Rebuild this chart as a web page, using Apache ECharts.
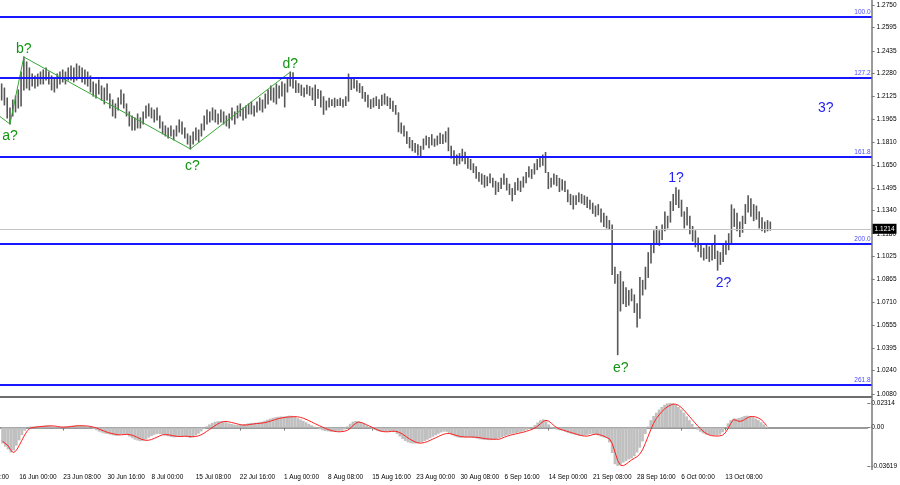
<!DOCTYPE html>
<html>
<head>
<meta charset="utf-8">
<script src="https://cdn.jsdelivr.net/npm/echarts@6/dist/echarts.min.js"></script>
<style>
html,body{margin:0;padding:0;background:#fff;overflow:hidden;width:900px;height:485px}
#wrap{position:relative;width:900px;height:485px;overflow:hidden}
#chart{position:absolute;left:-28px;top:0;width:928px;height:485px}
</style>
</head>
<body>
<div id="wrap"><div id="chart"></div></div>
<script>
// ---- data (GBP/USD, 8-hour bars) ----
const highs = [
1.2208,1.2180,1.2112,1.2043,1.2098,1.2125,1.2167,1.2290,1.2393,1.2359,
1.2318,1.2276,1.2263,1.2276,1.2290,1.2304,1.2318,1.2290,1.2263,1.2249,
1.2276,1.2290,1.2304,1.2290,1.2318,1.2331,1.2318,1.2345,1.2331,1.2318,
1.2304,1.2290,1.2263,1.2221,1.2208,1.2235,1.2194,1.2180,1.2208,1.2139,
1.2098,1.2071,1.2112,1.2167,1.2139,1.2071,1.2016,1.1988,1.1975,1.2002,
1.1975,1.2016,1.2057,1.2071,1.2043,1.2029,1.2043,1.1988,1.1947,1.1920,
1.1906,1.1920,1.1892,1.1920,1.1961,1.1947,1.1906,1.1865,1.1851,1.1878,
1.1906,1.1892,1.1933,1.1988,1.2029,1.2016,1.2043,1.2029,1.2002,1.2029,
1.2016,1.1988,1.2002,1.2043,1.2016,1.2057,1.2071,1.2043,1.2057,1.2071,
1.2084,1.2057,1.2084,1.2112,1.2098,1.2139,1.2167,1.2194,1.2180,1.2208,
1.2194,1.2221,1.2208,1.2249,1.2290,1.2285,1.2230,1.2210,1.2200,1.2180,
1.2200,1.2190,1.2180,1.2200,1.2170,1.2160,1.2120,1.2090,1.2110,1.2100,
1.2110,1.2100,1.2110,1.2100,1.2120,1.2276,1.2250,1.2240,1.2230,1.2210,
1.2190,1.2150,1.2130,1.2100,1.2110,1.2120,1.2100,1.2130,1.2140,1.2120,
1.2110,1.2090,1.2060,1.2010,1.1940,1.1920,1.1880,1.1840,1.1820,1.1800,
1.1790,1.1780,1.1830,1.1850,1.1840,1.1860,1.1830,1.1850,1.1870,1.1860,
1.1880,1.1906,1.1780,1.1750,1.1720,1.1730,1.1760,1.1740,1.1700,1.1690,
1.1660,1.1640,1.1600,1.1590,1.1580,1.1570,1.1590,1.1560,1.1540,1.1530,
1.1560,1.1590,1.1560,1.1520,1.1490,1.1530,1.1560,1.1540,1.1570,1.1600,
1.1640,1.1620,1.1660,1.1690,1.1700,1.1720,1.1738,1.1600,1.1560,1.1590,
1.1580,1.1560,1.1550,1.1540,1.1480,1.1450,1.1440,1.1440,1.1460,1.1450,
1.1440,1.1430,1.1410,1.1390,1.1370,1.1380,1.1350,1.1320,1.1300,1.1270,
1.1240,1.0950,1.0900,1.0920,1.0850,1.0810,1.0790,1.0800,1.0760,1.0700,
1.0880,1.0860,1.0950,1.1050,1.1110,1.1200,1.1230,1.1200,1.1240,1.1330,
1.1300,1.1400,1.1450,1.1496,1.1480,1.1410,1.1330,1.1360,1.1300,1.1230,
1.1200,1.1150,1.1110,1.1080,1.1100,1.1090,1.1110,1.1170,1.1060,1.1050,
1.1100,1.1130,1.1180,1.1378,1.1350,1.1320,1.1260,1.1300,1.1380,1.1440,
1.1420,1.1380,1.1370,1.1330,1.1290,1.1260,1.1270,1.1260
];
const lows = [
1.2098,1.2064,1.1975,1.1933,1.1988,1.2016,1.2043,1.2057,1.2167,1.2180,
1.2167,1.2194,1.2180,1.2194,1.2208,1.2208,1.2235,1.2208,1.2167,1.2153,
1.2180,1.2208,1.2222,1.2208,1.2235,1.2235,1.2222,1.2235,1.2249,1.2222,
1.2208,1.2194,1.2153,1.2125,1.2112,1.2139,1.2098,1.2071,1.2098,1.2043,
1.1988,1.1975,1.2029,1.2071,1.2043,1.1988,1.1920,1.1892,1.1892,1.1906,
1.1906,1.1933,1.1975,1.1988,1.1975,1.1947,1.1961,1.1906,1.1865,1.1851,
1.1837,1.1851,1.1824,1.1851,1.1878,1.1865,1.1837,1.1796,1.1762,1.1796,
1.1824,1.1810,1.1851,1.1892,1.1933,1.1947,1.1961,1.1947,1.1933,1.1947,
1.1933,1.1920,1.1906,1.1961,1.1933,1.1975,1.1988,1.1961,1.1975,1.2002,
1.2002,1.1988,1.2016,1.2029,1.2016,1.2043,1.2071,1.2098,1.2084,1.2071,
1.2112,1.2125,1.2050,1.2153,1.2194,1.2180,1.2150,1.2150,1.2130,1.2120,
1.2140,1.2130,1.2100,1.2060,1.2110,1.2050,1.2000,1.2030,1.2050,1.2060,
1.2050,1.2060,1.2060,1.2050,1.2060,1.2090,1.2170,1.2180,1.2160,1.2150,
1.2110,1.2090,1.2050,1.2040,1.2050,1.2060,1.2040,1.2060,1.2070,1.2060,
1.2040,1.2020,1.2000,1.1880,1.1870,1.1850,1.1800,1.1770,1.1750,1.1740,
1.1720,1.1717,1.1760,1.1790,1.1770,1.1790,1.1780,1.1790,1.1800,1.1800,
1.1810,1.1750,1.1700,1.1660,1.1650,1.1660,1.1680,1.1660,1.1630,1.1620,
1.1600,1.1560,1.1540,1.1520,1.1500,1.1510,1.1530,1.1500,1.1450,1.1470,
1.1490,1.1520,1.1480,1.1450,1.1406,1.1450,1.1480,1.1470,1.1500,1.1530,
1.1570,1.1560,1.1590,1.1620,1.1640,1.1650,1.1600,1.1490,1.1500,1.1520,
1.1510,1.1470,1.1480,1.1470,1.1400,1.1380,1.1350,1.1380,1.1400,1.1390,
1.1380,1.1360,1.1350,1.1320,1.1300,1.1310,1.1260,1.1230,1.1220,1.1210,
1.0900,1.0840,1.0350,1.0650,1.0700,1.0680,1.0690,1.0720,1.0640,1.0540,
1.0600,1.0760,1.0800,1.0880,1.0980,1.1050,1.1110,1.1100,1.1140,1.1200,
1.1220,1.1260,1.1340,1.1380,1.1360,1.1300,1.1220,1.1240,1.1180,1.1130,
1.1090,1.1060,1.1020,1.1000,1.1010,1.0990,1.1000,1.1010,1.0930,1.0970,
1.0990,1.1040,1.1070,1.1120,1.1230,1.1200,1.1160,1.1190,1.1250,1.1330,
1.1300,1.1270,1.1280,1.1220,1.1200,1.1190,1.1200,1.1205
];
const lastClose = 1.1214;

const macd = [
-0.0150,-0.0180,-0.0205,-0.0235,-0.0215,-0.0170,-0.0120,-0.0070,-0.0030,0.0000,
0.0010,0.0010,0.0012,0.0014,0.0016,0.0018,0.0020,0.0018,0.0012,0.0006,
0.0004,0.0006,0.0008,0.0010,0.0014,0.0018,0.0020,0.0022,0.0022,0.0020,
0.0015,0.0008,0.0000,-0.0012,-0.0025,-0.0038,-0.0048,-0.0056,-0.0060,-0.0066,
-0.0072,-0.0078,-0.0074,-0.0064,-0.0060,-0.0066,-0.0084,-0.0100,-0.0114,-0.0122,
-0.0128,-0.0124,-0.0110,-0.0094,-0.0080,-0.0068,-0.0060,-0.0060,-0.0066,-0.0074,
-0.0082,-0.0088,-0.0092,-0.0090,-0.0084,-0.0080,-0.0082,-0.0090,-0.0098,-0.0090,
-0.0074,-0.0058,-0.0036,-0.0012,0.0012,0.0030,0.0044,0.0054,0.0060,0.0060,
0.0058,0.0050,0.0040,0.0034,0.0028,0.0024,0.0026,0.0030,0.0034,0.0040,
0.0044,0.0044,0.0046,0.0050,0.0056,0.0064,0.0074,0.0084,0.0092,0.0098,
0.0102,0.0104,0.0104,0.0108,0.0112,0.0110,0.0100,0.0088,0.0076,0.0064,
0.0050,0.0036,0.0022,0.0010,-0.0004,-0.0016,-0.0026,-0.0032,-0.0036,-0.0040,
-0.0040,-0.0040,-0.0036,-0.0030,-0.0018,0.0010,0.0036,0.0056,0.0062,0.0060,
0.0050,0.0036,0.0020,0.0004,-0.0010,-0.0024,-0.0034,-0.0040,-0.0042,-0.0040,
-0.0036,-0.0034,-0.0040,-0.0060,-0.0084,-0.0108,-0.0126,-0.0140,-0.0148,-0.0150,
-0.0150,-0.0146,-0.0138,-0.0126,-0.0114,-0.0100,-0.0086,-0.0072,-0.0058,-0.0046,
-0.0038,-0.0040,-0.0056,-0.0072,-0.0084,-0.0092,-0.0096,-0.0094,-0.0092,-0.0092,
-0.0094,-0.0098,-0.0104,-0.0110,-0.0114,-0.0116,-0.0118,-0.0118,-0.0116,-0.0110,
-0.0100,-0.0090,-0.0080,-0.0070,-0.0064,-0.0058,-0.0052,-0.0046,-0.0040,-0.0032,
-0.0022,-0.0010,0.0004,0.0024,0.0048,0.0068,0.0078,0.0060,0.0030,0.0006,
-0.0010,-0.0020,-0.0026,-0.0030,-0.0040,-0.0050,-0.0058,-0.0064,-0.0070,-0.0076,
-0.0078,-0.0074,-0.0068,-0.0060,-0.0058,-0.0064,-0.0074,-0.0084,-0.0092,-0.0100,
-0.0140,-0.0240,-0.0345,-0.0361,-0.0350,-0.0330,-0.0315,-0.0300,-0.0290,-0.0270,
-0.0235,-0.0190,-0.0130,-0.0060,0.0010,0.0070,0.0110,0.0140,0.0170,0.0195,
0.0215,0.0228,0.0231,0.0228,0.0215,0.0195,0.0170,0.0140,0.0105,0.0070,
0.0035,0.0005,-0.0020,-0.0040,-0.0055,-0.0065,-0.0070,-0.0072,-0.0075,-0.0072,
-0.0066,-0.0045,-0.0005,0.0040,0.0070,0.0085,0.0085,0.0090,0.0100,0.0110,
0.0112,0.0108,0.0098,0.0085,0.0070,0.0050,0.0030,0.0010
];
const signal = [
-0.0130,-0.0150,-0.0170,-0.0215,-0.0236,-0.0215,-0.0170,-0.0120,-0.0070,-0.0030,
-0.0005,0.0000,0.0004,0.0008,0.0010,0.0012,0.0014,0.0016,0.0016,0.0014,
0.0010,0.0006,0.0004,0.0005,0.0007,0.0010,0.0013,0.0016,0.0017,0.0017,
0.0016,0.0014,0.0010,0.0004,-0.0004,-0.0014,-0.0025,-0.0035,-0.0045,-0.0052,
-0.0058,-0.0064,-0.0068,-0.0068,-0.0066,-0.0064,-0.0066,-0.0072,-0.0082,-0.0094,
-0.0106,-0.0115,-0.0120,-0.0119,-0.0112,-0.0102,-0.0090,-0.0078,-0.0068,-0.0066,
-0.0068,-0.0072,-0.0078,-0.0082,-0.0084,-0.0084,-0.0082,-0.0082,-0.0085,-0.0086,
-0.0084,-0.0078,-0.0068,-0.0054,-0.0036,-0.0018,0.0000,0.0018,0.0034,0.0048,
0.0056,0.0058,0.0054,0.0048,0.0042,0.0035,0.0028,0.0024,0.0024,0.0026,
0.0030,0.0034,0.0038,0.0040,0.0042,0.0046,0.0052,0.0060,0.0068,0.0076,
0.0084,0.0090,0.0094,0.0098,0.0100,0.0102,0.0103,0.0101,0.0096,0.0088,
0.0078,0.0066,0.0054,0.0040,0.0028,0.0016,0.0004,-0.0008,-0.0018,-0.0026,
-0.0033,-0.0038,-0.0040,-0.0038,-0.0034,-0.0026,-0.0008,0.0018,0.0040,0.0052,
0.0048,0.0038,0.0026,0.0014,0.0002,-0.0010,-0.0022,-0.0032,-0.0038,-0.0040,
-0.0039,-0.0036,-0.0034,-0.0038,-0.0048,-0.0062,-0.0080,-0.0098,-0.0114,-0.0128,
-0.0140,-0.0146,-0.0146,-0.0140,-0.0132,-0.0120,-0.0108,-0.0096,-0.0084,-0.0072,
-0.0062,-0.0056,-0.0056,-0.0062,-0.0070,-0.0078,-0.0084,-0.0087,-0.0089,-0.0089,
-0.0089,-0.0090,-0.0092,-0.0096,-0.0100,-0.0104,-0.0107,-0.0109,-0.0110,-0.0110,
-0.0110,-0.0100,-0.0090,-0.0080,-0.0072,-0.0066,-0.0060,-0.0054,-0.0048,-0.0042,
-0.0034,-0.0026,-0.0016,-0.0004,0.0014,0.0036,0.0058,0.0068,0.0060,0.0040,
0.0016,-0.0002,-0.0014,-0.0022,-0.0030,-0.0038,-0.0046,-0.0054,-0.0062,-0.0070,
-0.0076,-0.0080,-0.0080,-0.0074,-0.0066,-0.0062,-0.0064,-0.0072,-0.0082,-0.0094,
-0.0106,-0.0150,-0.0230,-0.0310,-0.0355,-0.0360,-0.0345,-0.0325,-0.0305,-0.0290,
-0.0275,-0.0250,-0.0210,-0.0150,-0.0085,-0.0020,0.0040,0.0085,0.0120,0.0150,
0.0175,0.0195,0.0210,0.0220,0.0220,0.0210,0.0190,0.0165,0.0135,0.0105,
0.0075,0.0045,0.0015,-0.0010,-0.0035,-0.0055,-0.0068,-0.0076,-0.0079,-0.0080,
-0.0078,-0.0072,-0.0050,-0.0010,0.0040,0.0075,0.0068,0.0058,0.0062,0.0075,
0.0092,0.0103,0.0104,0.0100,0.0090,0.0075,0.0050,0.0018
];

// Fibonacci extension levels
const fibLevels = [1.2671, 1.2249, 1.1707, 1.1110, 1.0142];
const fibNames  = ['100.0', '127.2', '161.8', '200.0', '261.8'];

// wave count (green polyline) — bar index / price
const waveIdx   = [-1, 3, 8, 68, 104];
const wavePrice = [1.1990, 1.1933, 1.2393, 1.1762, 1.2290];

// wave labels — bar index / price anchor
const waveLabelNames = ['a?', 'b?', 'c?', 'd?', 'e?', '1?', '2?', '3?'];
const waveLabelIdx   = [3, 8, 68, 104, 222, 243, 258, 297];
const waveLabelPrice = [1.1933, 1.2393, 1.1762, 1.2290, 1.0350, 1.1496, 1.0930, 1.2043];

// tick labels
const yTickLabels = ['1.0080','1.0240','1.0395','1.0555','1.0710','1.0865','1.1025','1.1180','1.1340',
  '1.1495','1.1650','1.1810','1.1965','1.2125','1.2280','1.2435','1.2595','1.2750'];
const macdTickLabels = ['0.02314', '0.00', '-0.03619'];
const xTickLabels = ['8 Jun 16:00','16 Jun 00:00','23 Jun 08:00','30 Jun 16:00','8 Jul 00:00','15 Jul 08:00',
  '22 Jul 16:00','1 Aug 00:00','8 Aug 08:00','15 Aug 16:00','23 Aug 00:00','30 Aug 08:00','6 Sep 16:00',
  '14 Sep 00:00','21 Sep 08:00','28 Sep 16:00','6 Oct 00:00','13 Oct 08:00'];

// ---- layout helpers ----
const SHIFT = 28;          // chart canvas starts 28px left of the page
const PAD = 10;            // empty slots before first bar
const SLOTS = 314;         // bar slots incl. right shift
const TOTAL = PAD + SLOTS;
const LABEL_EVERY = 16;
const cats = Array.from({length: TOTAL}, (_, k) => String(k));

const priceData = highs.map((h, i) => [i + PAD, lows[i], h]);
const macdData = macd.map((v, i) => [i + PAD, v]);
const signalData = signal.map((v, i) => [i + PAD, v]);
const waveData = waveIdx.map((k, j) => [k + PAD, wavePrice[j]]);

const green = '#149414', blue = '#2222f0';
// label placement style: position, distance, horizontal nudge (px, via left padding)
const labelStyle = {
  'a?': {c: green, pos: 'bottom', d: 5, dx: 0},
  'b?': {c: green, pos: 'top', d: 0, dx: 0},
  'c?': {c: green, pos: 'bottom', d: 10, dx: 2},
  'd?': {c: green, pos: 'top', d: 0, dx: 0},
  'e?': {c: green, pos: 'bottom', d: 6, dx: 3},
  '1?': {c: blue, pos: 'top', d: 2, dx: 0},
  '2?': {c: blue, pos: 'bottom', d: 5, dx: 6},
  '3?': {c: blue, pos: 'inside', d: 0, dx: 0}
};
const waveLabelData = waveLabelNames.map((n, j) => ({
  name: n, value: [waveLabelIdx[j] + PAD, waveLabelPrice[j]],
  label: {show: true, position: labelStyle[n].pos, distance: labelStyle[n].d,
          padding: [0, 0, 0, labelStyle[n].dx * 2], color: labelStyle[n].c, opacity: 1}
}));

const fibMarks = fibLevels.map((lv, j) => ({
  yAxis: lv,
  lineStyle: {color: '#1818ff', width: 2, type: 'solid'},
  label: {show: true, formatter: fibNames[j], position: 'insideEndTop', distance: [1, 1],
          color: '#4c4cff', fontSize: 6.5, fontFamily: 'Arial'}
}));
const lastMark = {
  yAxis: lastClose,
  lineStyle: {color: '#c4c4c4', width: 1, type: 'solid'},
  label: {show: true, formatter: lastClose.toFixed(4), position: 'end', distance: 1,
          backgroundColor: '#000', color: '#fff', padding: [2, 2, 1, 2], fontSize: 6.5, fontFamily: 'Arial'}
};

const isLabelSlot = (idx) => idx % LABEL_EVERY === 0 && idx / LABEL_EVERY < xTickLabels.length;

const chart = echarts.init(document.getElementById('chart'), null, {renderer: 'canvas'});
const gridLeft = SHIFT - 27.49, gridWidth = 899.1;

chart.setOption({
  animation: false,
  backgroundColor: '#ffffff',
  textStyle: {fontFamily: 'Arial, "Liberation Sans", sans-serif'},
  grid: [
    {left: gridLeft, width: gridWidth, top: 5, height: 389},
    {left: gridLeft, width: gridWidth, top: 403, height: 63}
  ],
  xAxis: [
    {type: 'category', gridIndex: 0, data: cats, boundaryGap: true, show: false},
    {type: 'category', gridIndex: 1, data: cats, boundaryGap: true, offset: 4,
     axisLine: {show: true, lineStyle: {color: '#7a7a7a', width: 1.5}},
     axisTick: {show: true, alignWithLabel: true, interval: isLabelSlot, length: 3, lineStyle: {color: '#7a7a7a'}},
     axisLabel: {show: true, interval: isLabelSlot, align: 'left', margin: 4, fontSize: 6.5, color: '#000',
       formatter: (v, idx) => xTickLabels[idx / LABEL_EVERY] || ''},
     splitLine: {show: false}}
  ],
  yAxis: [
    {type: 'value', gridIndex: 0, position: 'right', min: 1.0080, max: 1.2750,
     splitLine: {show: false}, axisLine: {show: false},
     axisTick: {show: true, length: 3, customValues: yTickLabels.map(Number), lineStyle: {color: '#7a7a7a'}},
     axisLabel: {show: true, customValues: yTickLabels.map(Number), margin: 5, fontSize: 6.5, color: '#000',
       formatter: (v) => v.toFixed(4)}},
    {type: 'value', gridIndex: 1, position: 'right', min: -0.03619, max: 0.02314,
     splitLine: {show: false}, axisLine: {show: false},
     axisTick: {show: true, length: 3, customValues: macdTickLabels.map(Number), lineStyle: {color: '#7a7a7a'}},
     axisLabel: {show: true, customValues: macdTickLabels.map(Number), margin: 4, fontSize: 6.5, color: '#000',
       formatter: (v) => {
         const vals = macdTickLabels.map(Number);
         let best = 0;
         vals.forEach((x, j) => { if (Math.abs(x - v) < Math.abs(vals[best] - v)) best = j; });
         return macdTickLabels[best];
       }}}
  ],
  series: [
    {
      type: 'custom', xAxisIndex: 0, yAxisIndex: 0, z: 2,
      data: priceData,
      encode: {x: 0, y: [1, 2]},
      renderItem: (params, api) => {
        const k = api.value(0);
        const lo = api.coord([k, api.value(1)]);
        const hi = api.coord([k, api.value(2)]);
        return {type: 'line', shape: {x1: lo[0], y1: lo[1] + 0.5, x2: hi[0], y2: hi[1] - 0.5},
                style: {stroke: '#575757', lineWidth: 1.6}};
      }
    },
    {
      type: 'line', xAxisIndex: 0, yAxisIndex: 0, z: 3,
      data: waveData, showSymbol: false, symbol: 'none',
      lineStyle: {color: '#36a836', width: 1},
      markLine: {silent: true, symbol: ['none', 'none'], animation: false, precision: 5,
                 data: fibMarks.concat([lastMark])}
    },
    {
      type: 'scatter', xAxisIndex: 0, yAxisIndex: 0, z: 4,
      data: waveLabelData, symbol: 'circle', symbolSize: 1,
      itemStyle: {color: 'rgba(255,255,255,0)', opacity: 1},
      labelLayout: {hideOverlap: false},
      label: {show: true, formatter: (p) => p.name, fontSize: 14, fontFamily: 'Arial'}
    },
    {
      type: 'bar', xAxisIndex: 1, yAxisIndex: 1, z: 2,
      data: macdData, barCategoryGap: '0%', barGap: '0%',
      itemStyle: {color: '#c0c0c0'}
    },
    {
      type: 'line', xAxisIndex: 1, yAxisIndex: 1, z: 3,
      data: signalData, showSymbol: false, symbol: 'none',
      lineStyle: {color: '#ff2020', width: 1}
    }
  ],
  graphic: [
    {type: 'line', shape: {x1: SHIFT + 872, y1: 0, x2: SHIFT + 872, y2: 470}, style: {stroke: '#7a7a7a', lineWidth: 1.5}, z: 1},
    {type: 'rect', shape: {x: SHIFT, y: 396, width: 872, height: 2}, style: {fill: '#6e6e6e'}, z: 1}
  ]
});
</script>
</body>
</html>
